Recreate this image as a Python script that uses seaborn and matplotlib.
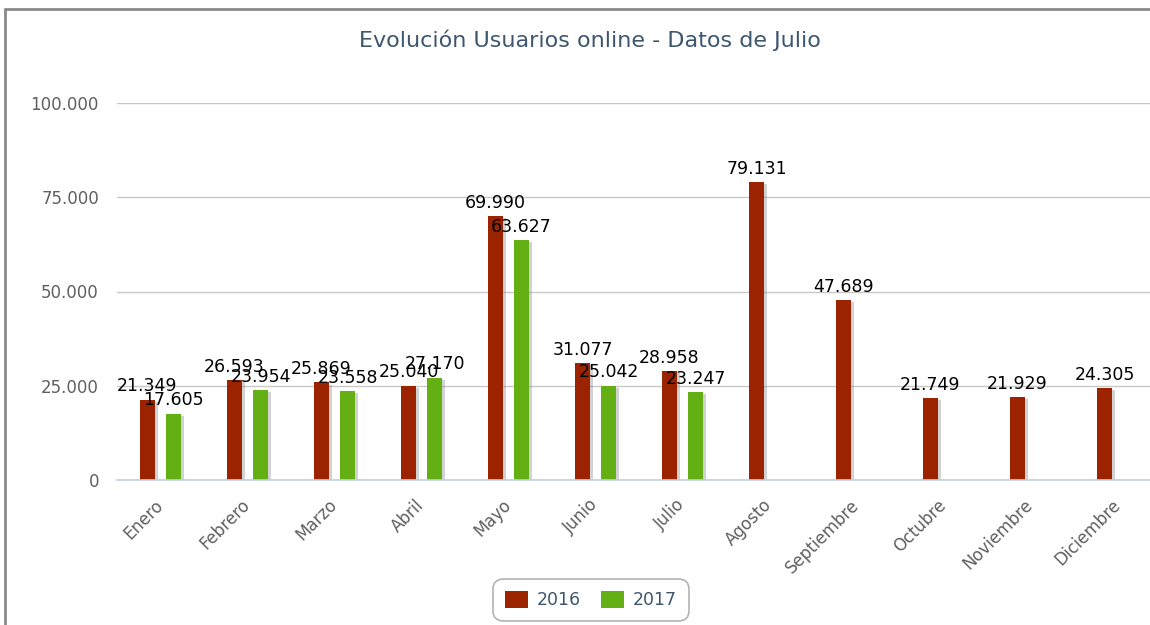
import matplotlib
matplotlib.use("Agg")
import matplotlib.pyplot as plt
import matplotlib.patheffects as pe
from matplotlib.lines import Line2D
import pandas as pd
import seaborn as sns

# Datos del gráfico
meses = ["Enero", "Febrero", "Marzo", "Abril", "Mayo", "Junio", "Julio",
         "Agosto", "Septiembre", "Octubre", "Noviembre", "Diciembre"]
usuarios_2016 = [21349, 26593, 25869, 25040, 69990, 31077, 28958,
                 79131, 47689, 21749, 21929, 24305]
usuarios_2017 = [17605, 23954, 23558, 27170, 63627, 25042, 23247]
anios = ["2016", "2017"]
colores = ["#9C2300", "#63AF14"]
y_ticks = [0, 25000, 50000, 75000, 100000]

TITLE_COLOR = "#3E576F"
LABEL_COLOR = "#606060"
AXIS_COLOR = "#C0D0E0"


def fmt_miles(v):
    return f"{v:,.0f}".replace(",", ".")


df = pd.concat([
    pd.DataFrame({"mes": meses, "usuarios": usuarios_2016, "anio": "2016"}),
    pd.DataFrame({"mes": meses[:len(usuarios_2017)], "usuarios": usuarios_2017, "anio": "2017"}),
])

sns.set_style("white")
plt.rcParams["font.family"] = ["DejaVu Sans"]

fig = plt.figure(figsize=(11.5, 6.25), dpi=100)
W, H = 1150, 625
ax = fig.add_axes([117 / W, 1 - 480 / H, (1161 - 117) / W, (480 - 103) / H])

sns.barplot(data=df, x="mes", y="usuarios", hue="anio", order=meses,
            hue_order=anios, palette=colores, width=0.6, gap=0.42,
            dodge=True, errorbar=None, ax=ax, legend=False, saturation=1)

# sombra ligera en las barras
for p in ax.patches:
    p.set_linewidth(0)
    p.set_path_effects([pe.SimplePatchShadow(offset=(2, -1.5), shadow_rgbFace="0.5", alpha=0.35),
                        pe.Normal()])

# etiquetas de datos
for c in ax.containers:
    ax.bar_label(c, labels=[fmt_miles(v) for v in c.datavalues], padding=3,
                 fontsize=12.5, color="black")

# ejes
ax.set_xlim(-0.5, len(meses) - 0.5)
ax.set_ylim(0, 100000)
ax.set_yticks(y_ticks)
ax.set_yticklabels([fmt_miles(v) for v in y_ticks])
ax.yaxis.grid(True, color="#C8C8C8", linewidth=1)
ax.set_axisbelow(True)
ax.tick_params(axis="y", length=0, pad=13, labelsize=12, labelcolor=LABEL_COLOR)

ax.set_xticks(range(len(meses)))
ax.set_xticklabels(meses, rotation=45, ha="right", va="center", rotation_mode="anchor")
ax.tick_params(axis="x", which="major", length=0, pad=16, labelsize=12, labelcolor=LABEL_COLOR)
ax.set_xticks([i - 0.5 for i in range(len(meses) + 1)], minor=True)
ax.tick_params(axis="x", which="minor", length=6, width=1, color=AXIS_COLOR)

for s in ["top", "right", "left"]:
    ax.spines[s].set_visible(False)
ax.spines["bottom"].set_color(AXIS_COLOR)
ax.spines["bottom"].set_linewidth(1.2)
ax.set_xlabel("")
ax.set_ylabel("")

# título
fig.text(590 / W, 1 - 40 / H, "Evolución Usuarios online - Datos de Julio",
         ha="center", va="center", fontsize=16, color=TITLE_COLOR)

# leyenda
handles = [plt.Rectangle((0, 0), 1, 1, facecolor=col, edgecolor="none") for col in colores]
leg = fig.legend(handles, anios, loc="center", bbox_to_anchor=(591 / W, 1 - 600 / H),
                 ncol=2, fontsize=12.5, frameon=True, handlelength=1.3, handleheight=1.1,
                 handletextpad=0.5, columnspacing=1.2, borderpad=0.5)
for t in leg.get_texts():
    t.set_color(TITLE_COLOR)
frame = leg.get_frame()
frame.set_edgecolor("#A0A0A0")
frame.set_linewidth(1.2)
frame.set_boxstyle("round,pad=0.2,rounding_size=0.6")

# marco exterior del contenedor
fig.add_artist(Line2D([5 / W, 5 / W], [0, 1 - 9 / H], color="#8A8A8A", linewidth=2,
                      transform=fig.transFigure))
fig.add_artist(Line2D([5 / W, 1], [1 - 9 / H, 1 - 9 / H], color="#8A8A8A", linewidth=2,
                      transform=fig.transFigure))

fig.savefig("out.png", dpi=100)
